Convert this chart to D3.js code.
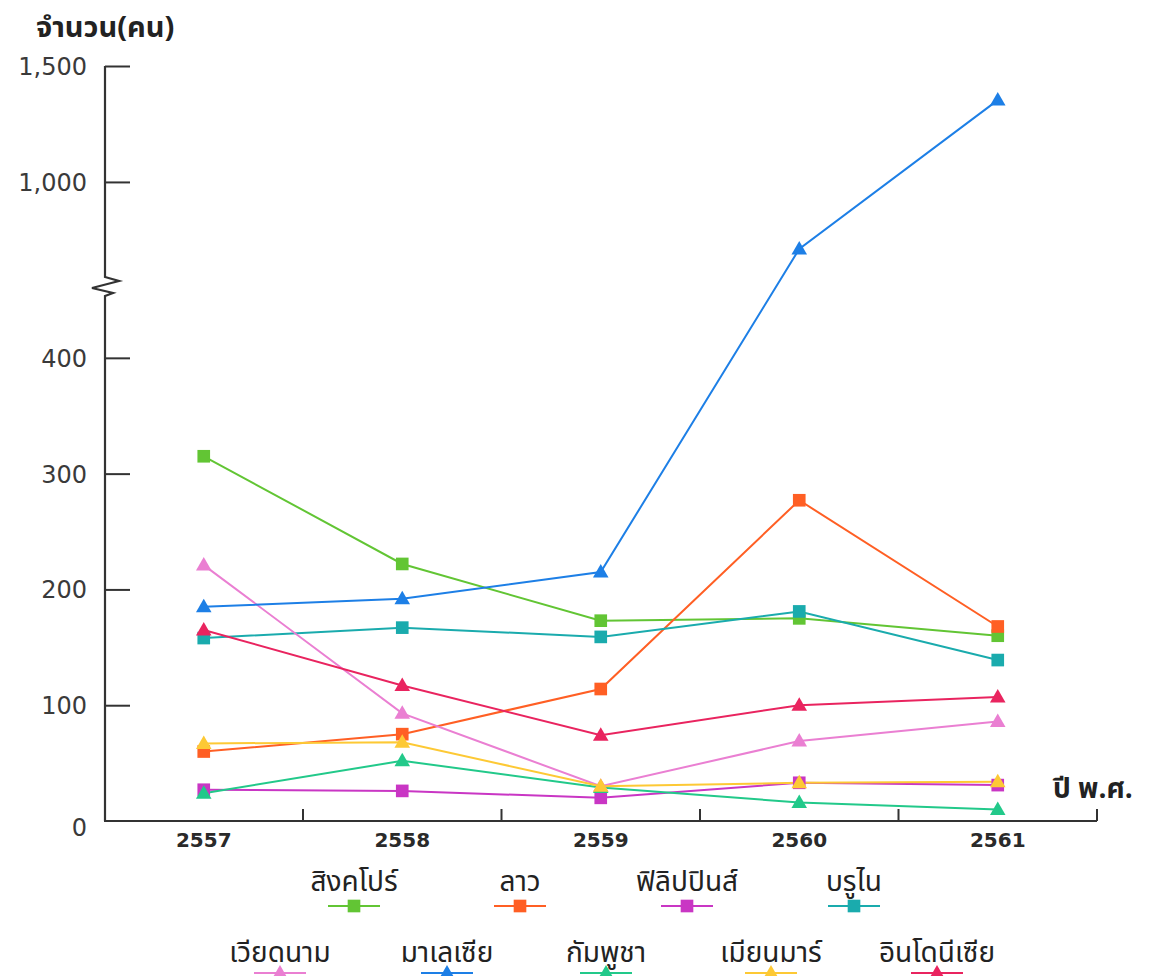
<!DOCTYPE html>
<html>
<head>
<meta charset="utf-8">
<script src="https://cdn.jsdelivr.net/npm/d3@7"></script>
<style>
  html, body { margin: 0; padding: 0; background: #fff; }
  svg { display: block; }
  text { font-family: "Noto Sans Thai", "Tahoma", "Loma", "Garuda", "DejaVu Sans", sans-serif; }
</style>
</head>
<body>
<svg id="chart" width="1151" height="976"></svg>
<script>
// ---------- data ----------
const years = ["2557", "2558", "2559", "2560", "2561"];
const countries = ["สิงคโปร์", "ลาว", "ฟิลิปปินส์", "บรูไน", "เวียดนาม", "มาเลเซีย", "กัมพูชา", "เมียนมาร์", "อินโดนีเซีย"];
const singapore   = [315, 222, 173, 175, 160];
const laos        = [60, 75, 114, 277, 168];
const philippines = [27, 26, 20, 33, 31];
const brunei      = [158, 167, 159, 181, 139];
const vietnam     = [221, 93, 30, 69, 86];
const malaysia    = [185, 192, 215, 711, 1353];
const cambodia    = [24, 52, 29, 16, 10];
const myanmar     = [67, 68, 30, 33, 34];
const indonesia   = [165, 117, 74, 100, 107];
const yTicks = [0, 100, 200, 300, 400, 1000, 1500];
const yTickLabels = ["0", "100", "200", "300", "400", "1,000", "1,500"];
const yTitle = "จำนวน(คน)";
const xTitle = "ปี พ.ศ.";

const seriesValues = [singapore, laos, philippines, brunei, vietnam, malaysia, cambodia, myanmar, indonesia];
const colors = ["#62c534", "#ff5f24", "#c936c4", "#1aabad", "#ea7fd2", "#1d7fe6", "#22c98a", "#fdc935", "#e9245f"];
const shapes = ["square", "square", "square", "square", "triangle", "triangle", "triangle", "triangle", "triangle"];

const series = countries.map((name, i) => ({
  name, color: colors[i], shape: shapes[i],
  values: seriesValues[i].map((v, j) => ({ year: years[j], value: v }))
}));

// ---------- layout ----------
const svg = d3.select("#chart");
const axisX = 105, axisY = 821, axisTop = 66, axisRight = 1097;
const breakLow = 456, breakHigh = 590;

const x = d3.scaleBand().domain(years).range([104.5, axisRight]).paddingInner(0).paddingOuter(0);
// broken axis: 0-456 lower segment, 590-1500 upper segment
const y = d3.scaleLinear()
  .domain([0, breakLow, breakHigh, 1500])
  .range([axisY, 293, 277, axisTop]);

const axisColor = "#333";

// y axis ticks + labels
const yAxis = d3.axisLeft(y)
  .tickValues(yTicks)
  .tickFormat((d, i) => yTickLabels[i])
  .tickSizeInner(-25)
  .tickSizeOuter(0)
  .tickPadding(18);

const gy = svg.append("g").attr("transform", `translate(${axisX},0)`).call(yAxis);
gy.select(".domain").remove();
gy.selectAll(".tick line").attr("stroke", axisColor).attr("stroke-width", 2)
  .filter(d => d === 0).remove();
gy.selectAll(".tick text")
  .attr("fill", "#3a3a3a")
  .style("font-family", "'DejaVu Sans', sans-serif")
  .style("font-size", "24px")
  .attr("dy", d => d === 0 ? "0.6em" : "0.35em");

// y axis line with break
const yb1 = y(breakLow), yb2 = y(breakHigh);
svg.append("path")
  .attr("d", `M${axisX},${axisY} L${axisX},${yb1 + 3}
              L${axisX + 8},${yb1} L${axisX - 13},${yb1 - 5} L${axisX + 14},${yb2 + 4} L${axisX},${yb2}
              L${axisX},${axisTop}`)
  .attr("fill", "none").attr("stroke", axisColor).attr("stroke-width", 2.2)
  .attr("stroke-linejoin", "miter");

// x axis
svg.append("line")
  .attr("x1", axisX - 1).attr("x2", axisRight).attr("y1", axisY).attr("y2", axisY)
  .attr("stroke", axisColor).attr("stroke-width", 2.2);

svg.append("g").selectAll("line")
  .data(years)
  .join("line")
  .attr("x1", d => x(d) + x.bandwidth()).attr("x2", d => x(d) + x.bandwidth())
  .attr("y1", axisY).attr("y2", axisY - 12)
  .attr("stroke", axisColor).attr("stroke-width", 2);

const xAxis = d3.axisBottom(x).tickSize(0).tickPadding(12);
const gx = svg.append("g").attr("transform", `translate(0,${axisY})`).call(xAxis);
gx.select(".domain").remove();
gx.selectAll(".tick text")
  .attr("fill", "#2a2a2a")
  .style("font-family", "'DejaVu Sans', sans-serif")
  .style("font-size", "20px")
  .style("font-weight", "bold");

// titles
svg.append("text").attr("x", 36).attr("y", 37).text(yTitle)
  .attr("fill", "#222").style("font-size", "29px").style("font-weight", "bold");
svg.append("text").attr("x", 1053).attr("y", 798).text(xTitle)
  .attr("fill", "#222").style("font-size", "28px").style("font-weight", "bold");

// ---------- lines & markers ----------
const line = d3.line().x(d => x(d.year) + x.bandwidth() / 2).y(d => y(d.value));
const sqSym = d3.symbol().type(d3.symbolSquare).size(160);
const triSym = d3.symbol().type(d3.symbolTriangle).size(105);

const gs = svg.append("g").selectAll("g").data(series).join("g");
gs.append("path")
  .attr("d", d => line(d.values))
  .attr("fill", "none").attr("stroke", d => d.color).attr("stroke-width", 2);

series.forEach((s, si) => {
  svg.append("g").selectAll("path")
    .data(s.values)
    .join("path")
    .attr("transform", d => `translate(${x(d.year) + x.bandwidth() / 2},${y(d.value) + (s.shape === "triangle" ? 1 : 0)})`)
    .attr("d", s.shape === "square" ? sqSym() : triSym())
    .attr("fill", s.color);
});

// ---------- legend ----------
const legendPos = [
  { cx: 354, ty: 891, sy: 906 }, { cx: 520, ty: 891, sy: 906 }, { cx: 687, ty: 891, sy: 906 }, { cx: 854, ty: 891, sy: 906 },
  { cx: 280, ty: 962, sy: 973 }, { cx: 447, ty: 962, sy: 973 }, { cx: 606, ty: 962, sy: 973 }, { cx: 771, ty: 962, sy: 973 }, { cx: 937, ty: 962, sy: 973 }
];
const lg = svg.append("g").selectAll("g").data(series).join("g")
  .attr("transform", (d, i) => `translate(${legendPos[i].cx},0)`);
lg.append("text")
  .attr("y", (d, i) => legendPos[i].ty)
  .attr("text-anchor", "middle")
  .attr("fill", "#222")
  .style("font-size", "28px")
  .text(d => d.name);
lg.append("line")
  .attr("x1", -26).attr("x2", 26)
  .attr("y1", (d, i) => legendPos[i].sy).attr("y2", (d, i) => legendPos[i].sy)
  .attr("stroke", d => d.color).attr("stroke-width", 2);
lg.append("path")
  .attr("transform", (d, i) => `translate(0,${legendPos[i].sy + (d.shape === "triangle" ? 1 : 0)})`)
  .attr("d", d => d.shape === "square" ? sqSym() : triSym())
  .attr("fill", d => d.color);
</script>
</body>
</html>
